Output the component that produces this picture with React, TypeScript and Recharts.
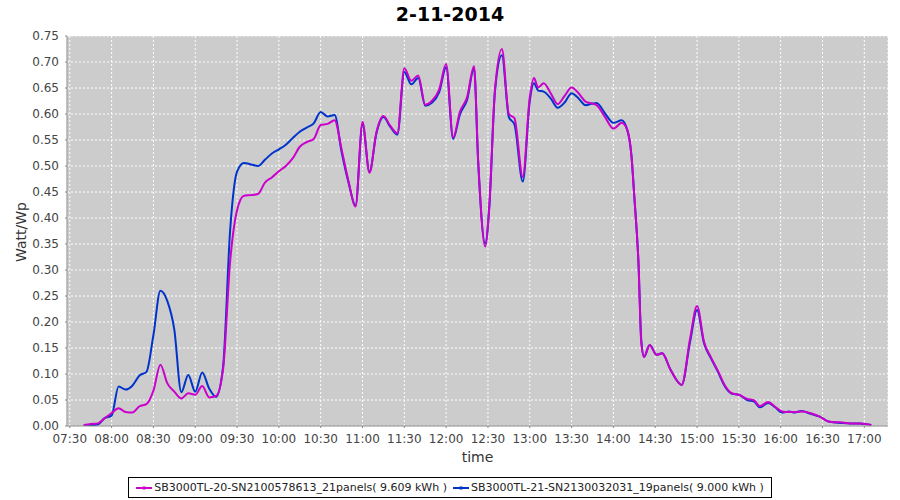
import React from 'react'
import { LineChart, Line, XAxis, YAxis, CartesianGrid, Label } from 'recharts'

// sample times (HH:MM)
const times = [
  '07:40', '07:45', '07:50', '07:55', '08:00', '08:05', '08:10', '08:15', '08:20', '08:25',
  '08:30', '08:35', '08:40', '08:45', '08:50', '08:55', '09:00', '09:05', '09:10', '09:15',
  '09:20', '09:25', '09:30', '09:35', '09:40', '09:45', '09:50', '09:55', '10:00', '10:05',
  '10:10', '10:15', '10:20', '10:25', '10:30', '10:35', '10:40', '10:45', '10:50', '10:55',
  '11:00', '11:05', '11:10', '11:15', '11:20', '11:25', '11:30', '11:35', '11:40', '11:45',
  '11:50', '11:55', '12:00', '12:05', '12:10', '12:15', '12:20', '12:23', '12:28', '12:31',
  '12:35', '12:40', '12:45', '12:49', '12:55', '13:00', '13:03', '13:06', '13:10', '13:15',
  '13:20', '13:25', '13:30', '13:35', '13:40', '13:45', '13:48', '13:54', '14:00', '14:06',
  '14:10', '14:13', '14:15', '14:18', '14:20', '14:22', '14:26', '14:31', '14:35', '14:41',
  '14:49', '14:55', '15:00', '15:05', '15:10', '15:15', '15:20', '15:25', '15:30', '15:36',
  '15:41', '15:45', '15:51', '15:56', '16:01', '16:06', '16:10', '16:15', '16:21', '16:28',
  '16:35', '16:43', '16:50', '16:57', '17:05',
]

// SB3000TL-20 (magenta)
const sb20 = [
  0.002, 0.004, 0.005, 0.015, 0.025, 0.034, 0.027, 0.026, 0.038, 0.042,
  0.068, 0.118, 0.082, 0.066, 0.053, 0.063, 0.060, 0.077, 0.055, 0.058,
  0.110, 0.315, 0.415, 0.443, 0.444, 0.446, 0.468, 0.478, 0.490, 0.500,
  0.515, 0.537, 0.546, 0.552, 0.579, 0.581, 0.588, 0.532, 0.470, 0.422,
  0.585, 0.487, 0.565, 0.596, 0.577, 0.563, 0.688, 0.664, 0.674, 0.618,
  0.626, 0.647, 0.696, 0.555, 0.605, 0.632, 0.692, 0.510, 0.345, 0.425,
  0.645, 0.725, 0.600, 0.592, 0.479, 0.632, 0.669, 0.651, 0.659, 0.640,
  0.619, 0.635, 0.651, 0.640, 0.624, 0.620, 0.617, 0.594, 0.572, 0.583,
  0.569, 0.518, 0.441, 0.313, 0.160, 0.133, 0.156, 0.137, 0.140, 0.108,
  0.079, 0.168, 0.231, 0.162, 0.132, 0.106, 0.078, 0.063, 0.060, 0.052,
  0.049, 0.038, 0.046, 0.037, 0.028, 0.027, 0.027, 0.028, 0.025, 0.018,
  0.008, 0.007, 0.005, 0.005, 0.002,
]

// SB3000TL-21 (blue)
const sb21 = [
  0.002, 0.002, 0.003, 0.015, 0.020, 0.076, 0.070, 0.078, 0.097, 0.104,
  0.175, 0.260, 0.240, 0.185, 0.065, 0.098, 0.066, 0.103, 0.072, 0.056,
  0.115, 0.375, 0.489, 0.506, 0.503, 0.500, 0.512, 0.524, 0.532, 0.541,
  0.554, 0.566, 0.574, 0.582, 0.604, 0.595, 0.598, 0.527, 0.468, 0.424,
  0.580, 0.489, 0.563, 0.594, 0.575, 0.560, 0.681, 0.657, 0.669, 0.616,
  0.622, 0.642, 0.690, 0.552, 0.600, 0.627, 0.688, 0.506, 0.351, 0.422,
  0.643, 0.713, 0.594, 0.580, 0.470, 0.625, 0.659, 0.645, 0.643, 0.630,
  0.612, 0.622, 0.640, 0.630, 0.617, 0.620, 0.621, 0.601, 0.583, 0.588,
  0.569, 0.518, 0.441, 0.313, 0.165, 0.133, 0.156, 0.137, 0.140, 0.108,
  0.079, 0.162, 0.223, 0.159, 0.130, 0.104, 0.076, 0.062, 0.060, 0.050,
  0.047, 0.036, 0.044, 0.036, 0.026, 0.028, 0.026, 0.029, 0.024, 0.018,
  0.008, 0.006, 0.005, 0.005, 0.002,
]

const xTicks = [
  '07:30', '08:00', '08:30', '09:00', '09:30', '10:00', '10:30', '11:00', '11:30', '12:00',
  '12:30', '13:00', '13:30', '14:00', '14:30', '15:00', '15:30', '16:00', '16:30', '17:00',
]
const yTicks = [0, 0.05, 0.1, 0.15, 0.2, 0.25, 0.3, 0.35, 0.4, 0.45, 0.5, 0.55, 0.6, 0.65, 0.7, 0.75]

const name20 = 'SB3000TL-20-SN2100578613_21panels( 9.609 kWh )'
const name21 = 'SB3000TL-21-SN2130032031_19panels( 9.000 kWh )'

const MAGENTA = '#cc00cc'
const BLUE = '#0033cc'
const FONT = '"DejaVu Sans", sans-serif'

function toMin(s: string) {
  const [h, m] = s.split(':').map(Number)
  return h * 60 + m
}

function fmtTime(v: number) {
  const h = Math.floor(v / 60)
  const m = v % 60
  return `${String(h).padStart(2, '0')}:${String(m).padStart(2, '0')}`
}

const data = times.map((t, i) => ({ t: toMin(t), a: sb20[i], b: sb21[i] }))
const xTickMins = xTicks.map(toMin)
const domain: [number, number] = [448, 1037]

function Swatch({ color }: { color: string }) {
  return (
    <svg width={16} height={8} style={{ marginRight: 2 }}>
      <line x1={0} y1={4} x2={16} y2={4} stroke={color} strokeWidth={2} />
      <rect x={6.5} y={2.5} width={3} height={3} fill={color} />
    </svg>
  )
}

export default function App() {
  return (
    <div style={{ position: 'absolute', left: 0, top: 0, width: 900, height: 500, background: '#fff', fontFamily: FONT }}>
      <div style={{ position: 'absolute', top: 3, width: 900, textAlign: 'center', fontSize: 19, fontWeight: 'bold', color: '#000' }}>
        2-11-2014
      </div>
      <LineChart width={900} height={500} data={data} margin={{ top: 36, right: 12, left: 0, bottom: 0 }}>
        <CartesianGrid fill="#cccccc" stroke="#ffffff" strokeDasharray="2 2" />
        <XAxis
          dataKey="t"
          type="number"
          domain={domain}
          allowDataOverflow
          ticks={xTickMins}
          interval={0}
          tickFormatter={fmtTime}
          height={74}
          stroke="#888888"
          tickSize={2}
          tickMargin={6}
          tick={{ fill: '#444444', fontSize: 12, fontFamily: FONT }}
        >
          <Label value="time" position="insideTop" offset={26} fill="#333333" fontSize={14} fontFamily={FONT} />
        </XAxis>
        <XAxis xAxisId="top" orientation="top" type="number" domain={domain} height={0} tick={false} stroke="#888888" />
        <YAxis
          type="number"
          domain={[0, 0.75]}
          ticks={yTicks}
          interval={0}
          tickFormatter={(v: number) => v.toFixed(2)}
          width={67}
          stroke="#888888"
          tickSize={2}
          tickMargin={6}
          tick={{ fill: '#444444', fontSize: 12, fontFamily: FONT }}
        >
          <Label
            content={() => (
              <text x={21} y={232} transform="rotate(-90, 21, 232)" textAnchor="middle" dominantBaseline="central" fontSize={14} fill="#333333" fontFamily={FONT}>
                Watt/Wp
              </text>
            )}
          />
        </YAxis>
        <YAxis yAxisId="right" orientation="right" width={0} tick={false} stroke="#888888" domain={[0, 0.75]} />
        <Line dataKey="b" type="monotone" stroke={BLUE} strokeWidth={2} dot={false} isAnimationActive={false} />
        <Line dataKey="a" type="monotone" stroke={MAGENTA} strokeWidth={2} dot={false} isAnimationActive={false} />
      </LineChart>
      <div
        style={{
          position: 'absolute', left: 128, top: 477, width: 642, height: 19, border: '1px solid #000',
          display: 'flex', alignItems: 'center', justifyContent: 'center', fontSize: 11, color: '#222', whiteSpace: 'nowrap',
        }}
      >
        <Swatch color={MAGENTA} />
        <span style={{ marginRight: 6 }}>{name20}</span>
        <Swatch color={BLUE} />
        <span>{name21}</span>
      </div>
    </div>
  )
}
